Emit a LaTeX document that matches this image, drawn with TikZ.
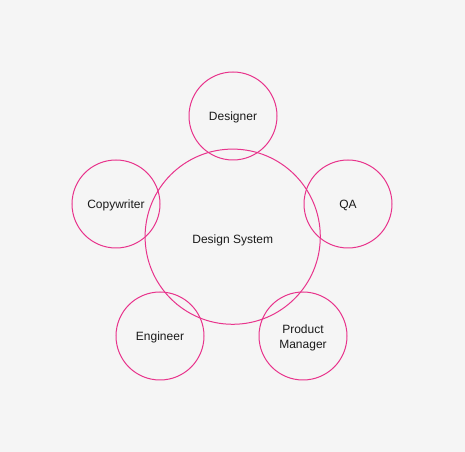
\documentclass[tikz,border=0pt]{standalone}
\usepackage{fontspec}
\setmainfont{Liberation Sans}
\definecolor{bg}{HTML}{F5F5F5}
\definecolor{pink}{HTML}{E8348C}
\definecolor{txt}{HTML}{1A1A1A}
\begin{document}
\begin{tikzpicture}[x=0.75pt,y=-0.75pt,
  ring/.style={circle,draw=pink,line width=0.75pt,minimum size=#1,inner sep=0pt},
  ring/.default=66pt,
  lbl/.style={inner sep=0pt,text=txt,font=\fontsize{9}{11}\selectfont,align=center,text depth=0pt}]
\fill[bg] (0,0) rectangle (465,452);
\useasboundingbox (0,0) rectangle (465,452);
\node[ring=131.4pt] (ds) at (232.7,236.7) {};
\node[ring] (designer) at (233,116) {};
\node[ring] (qa) at (348,204) {};
\node[ring] (copy) at (116,204) {};
\node[ring] (eng) at (160,336) {};
\node[ring] (pm) at (303,336) {};
\node[lbl] (ds-t) at ([yshift=-2.2pt]ds.center) {Design System};
\node[lbl] (designer-t) at ([yshift=-0.4pt]designer.center) {Designer};
\node[lbl] (qa-t) at ([yshift=-0.4pt]qa.center) {QA};
\node[lbl] (copy-t) at ([yshift=-0.4pt]copy.center) {Copywriter};
\node[lbl] (eng-t) at ([yshift=-0.4pt]eng.center) {Engineer};
\node[lbl] (pm-t) at ([yshift=-0.4pt]pm.center) {Product\\Manager};
\end{tikzpicture}
\end{document}
